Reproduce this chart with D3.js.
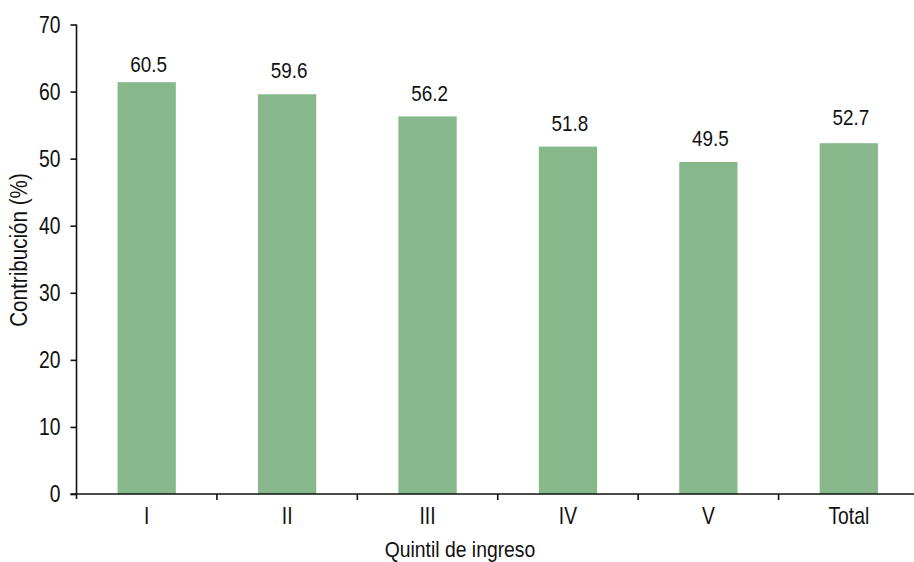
<!DOCTYPE html>
<html>
<head>
<meta charset="utf-8">
<script src="https://cdn.jsdelivr.net/npm/d3@7"></script>
<style>
  html, body { margin: 0; padding: 0; background: #fff; }
  svg { display: block; }
  text { font-family: "Liberation Sans", Arial, sans-serif; fill: #111; }
</style>
</head>
<body>
<svg id="chart" width="914" height="562"></svg>
<script>
// Data
const categories = ["I", "II", "III", "IV", "V", "Total"];
const barValues = [61.4, 59.6, 56.3, 51.8, 49.5, 52.3];      // bar heights as drawn
const labelTexts = ["60.5", "59.6", "56.2", "51.8", "49.5", "52.7"]; // printed data labels
const yTicks = [0, 10, 20, 30, 40, 50, 60, 70];
const yTitle = "Contribución (%)";
const xTitle = "Quintil de ingreso";

const svg = d3.select("#chart");
const W = 914, H = 562;
const x0 = 76.5, x1 = 919;
const y0 = 494, y1 = 24.5;

const x = d3.scaleBand().domain(categories).range([x0, x1]).paddingInner(0.585).paddingOuter(0.2925);
const xb = d3.scaleBand().domain(categories).range([x0, x1]);
const y = d3.scaleLinear().domain([0, 70]).range([y0, y1]);

// text condensed horizontally to mimic Arial Narrow
function narrowText(sel, px, py, str, size, anchor, rot, sx) {
  const g = sel.append("g")
    .attr("transform", `translate(${px},${py})${rot ? " rotate(" + rot + ")" : ""} scale(${sx || 0.84},1)`);
  g.append("text").attr("text-anchor", anchor || "middle").attr("font-size", size).text(str);
  return g;
}

// bars
svg.append("g").selectAll("rect").data(categories).join("rect")
  .attr("x", d => x(d))
  .attr("width", x.bandwidth())
  .attr("y", (d, i) => y(barValues[i]))
  .attr("height", (d, i) => y(0) - y(barValues[i]))
  .attr("fill", "#86b88c");

// data labels
const gl = svg.append("g");
categories.forEach((d, i) => {
  narrowText(gl, xb(d) + xb.bandwidth() / 2 + 2, y(+labelTexts[i]) - 16, labelTexts[i], 22.5, "middle");
});

// y axis
const yAxis = d3.axisLeft(y).tickValues(yTicks).tickSize(6).tickFormat("");
const gy = svg.append("g").attr("transform", `translate(${x0},0)`).call(yAxis);
gy.select(".domain").attr("d", `M0,${y1}V${y0 + 5}`).attr("stroke", "#111").attr("stroke-width", 1.6);
gy.selectAll(".tick line").attr("stroke", "#111").attr("stroke-width", 1.6);
gy.selectAll(".tick").each(function(d) {
  narrowText(d3.select(this), -16, 7.5, String(d), 23, "end");
});

// x axis baseline and boundary ticks
svg.append("line").attr("x1", x0 - 6).attr("x2", W).attr("y1", y0).attr("y2", y0)
  .attr("stroke", "#111").attr("stroke-width", 1.6);
svg.append("g").selectAll("line").data(categories.slice(1)).join("line")
  .attr("x1", d => xb(d)).attr("x2", d => xb(d))
  .attr("y1", y0).attr("y2", y0 + 6)
  .attr("stroke", "#111").attr("stroke-width", 1.6);

// category labels
const gc = svg.append("g");
categories.forEach(d => {
  narrowText(gc, xb(d) + xb.bandwidth() / 2, y0 + 29.5, d, 23, "middle");
});

// axis titles
narrowText(svg, 27, 250, yTitle, 24, "middle", -90, 0.86);
narrowText(svg, 460, 557, xTitle, 22, "middle", 0, 0.88);
</script>
</body>
</html>
